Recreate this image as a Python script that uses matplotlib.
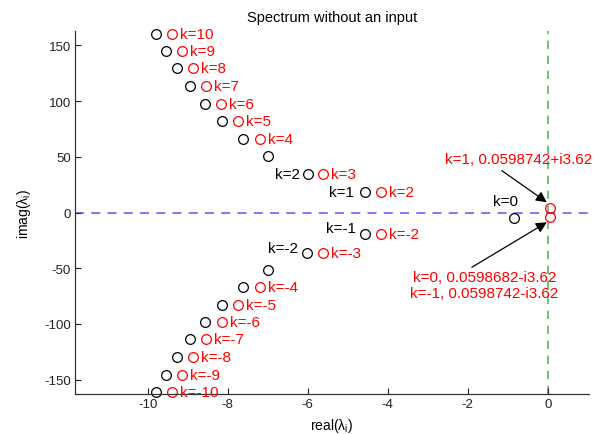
import numpy as np
import matplotlib
matplotlib.use("Agg")
import matplotlib.pyplot as plt

plt.rcParams['font.family'] = ['Liberation Sans', 'DejaVu Sans']
plt.rcParams['mathtext.fontset'] = 'custom'
plt.rcParams['mathtext.rm'] = 'Liberation Sans'
plt.rcParams['mathtext.it'] = 'Liberation Sans'

# Eigenvalues (black set)
black_re = [-9.80, -9.535, -9.27, -8.94, -8.56, -8.14, -7.61, -6.985, -5.99, -4.575, -0.835,
            -4.575, -6.01, -6.985, -7.61, -8.14, -8.56, -8.94, -9.27, -9.535, -9.80]
black_im = [160.4, 144.8, 129.6, 113.4, 97.8, 82.5, 66.0, 51.0, 34.6, 18.7, -5.2,
            -19.6, -36.0, -51.4, -66.7, -83.1, -98.1, -113.7, -130.1, -146.0, -161.5]

# Eigenvalues (red set) and their labels
red_re = [-9.40, -9.135, -8.86, -8.535, -8.16, -7.74, -7.20, -5.61, -4.175, 0.06,
          0.06, -4.175, -5.61, -7.19, -7.735, -8.135, -8.535, -8.86, -9.135, -9.40]
red_im = [160.4, 144.8, 129.6, 113.4, 97.8, 82.5, 66.0, 34.6, 18.7, 3.62,
          -3.62, -19.6, -36.0, -66.7, -83.1, -98.1, -113.7, -130.1, -146.0, -161.5]
red_labels = ['k=10', 'k=9', 'k=8', 'k=7', 'k=6', 'k=5', 'k=4', 'k=3', 'k=2', None,
              None, 'k=-2', 'k=-3', 'k=-4', 'k=-5', 'k=-6', 'k=-7', 'k=-8', 'k=-9', 'k=-10']

# Black labels (text anchor positions)
black_labels = ['k=2', 'k=1', 'k=-1', 'k=-2']
black_lab_x = [-6.19, -4.84, -4.79, -6.24]
black_lab_y = [35.0, 18.7, -13.9, -32.2]

x_ticks = [-10, -8, -6, -4, -2, 0]
y_ticks = [-150, -100, -50, 0, 50, 100, 150]

fig = plt.figure(figsize=(6.04, 4.35), dpi=100)
ax = fig.add_axes([75 / 604, 1 - 395 / 435, 514 / 604, 363 / 435])

ax.axhline(0, color='#6f6fff', linestyle=(0, (5, 4)), lw=1.3, zorder=1)
ax.axvline(0, color='#5cb85c', linestyle=(0, (5, 4)), lw=1.2, zorder=1)

ax.plot(black_re, black_im, 'o', mfc='none', mec='black', ms=7, mew=0.9, clip_on=False)
ax.plot(red_re, red_im, 'o', mfc='none', mec='red', ms=7, mew=0.9, clip_on=False)

for x, y, s in zip(red_re, red_im, red_labels):
    if s is not None:
        ax.text(x + 0.2, y, s, color='red', fontsize=11, ha='left', va='center')

for x, y, s in zip(black_lab_x, black_lab_y, black_labels):
    ax.text(x, y, s, color='black', fontsize=11, ha='right', va='center')
ax.text(-1.055, 10.6, 'k=0', color='black', fontsize=11, ha='center', va='center')

# Annotations with arrows
ax.text(-0.72, 48, 'k=1, 0.0598742+i3.62', color='red', fontsize=11, ha='center', va='center')
ax.text(-1.585, -65, 'k=0, 0.0598682-i3.62\nk=-1, 0.0598742-i3.62', color='red',
        fontsize=11, ha='center', va='center', linespacing=1.2)
arrow = dict(arrowstyle='-|>', color='black', lw=0.9, mutation_scale=16, shrinkA=0, shrinkB=0)
ax.annotate('', xy=(-0.025, 9.2), xytext=(-1.15, 37.6), arrowprops=arrow)
ax.annotate('', xy=(-0.025, -8.8), xytext=(-1.9, -49.2), arrowprops=arrow)

ax.set_xlim(-11.82, 1.03)
ax.set_ylim(-163, 163)
ax.set_xticks(x_ticks)
ax.set_yticks(y_ticks)
ax.set_xticklabels([str(t) for t in x_ticks])
ax.set_yticklabels([str(t) for t in y_ticks])
ax.tick_params(direction='in', length=4, width=0.8, labelsize=9.5, pad=3, colors='#222222')
ax.spines['top'].set_visible(False)
ax.spines['right'].set_visible(False)
for sp in ['left', 'bottom']:
    ax.spines[sp].set_color('#333333')
    ax.spines[sp].set_linewidth(0.9)

ax.set_title('Spectrum without an input', fontsize=10.5, pad=7)
ax.set_xlabel(r'real(λ$_{\rm i}$)', fontsize=10, labelpad=4)
ax.set_ylabel(r'imag(λ$_{\rm i}$)', fontsize=10, labelpad=8)

fig.savefig('out.png', dpi=100)
